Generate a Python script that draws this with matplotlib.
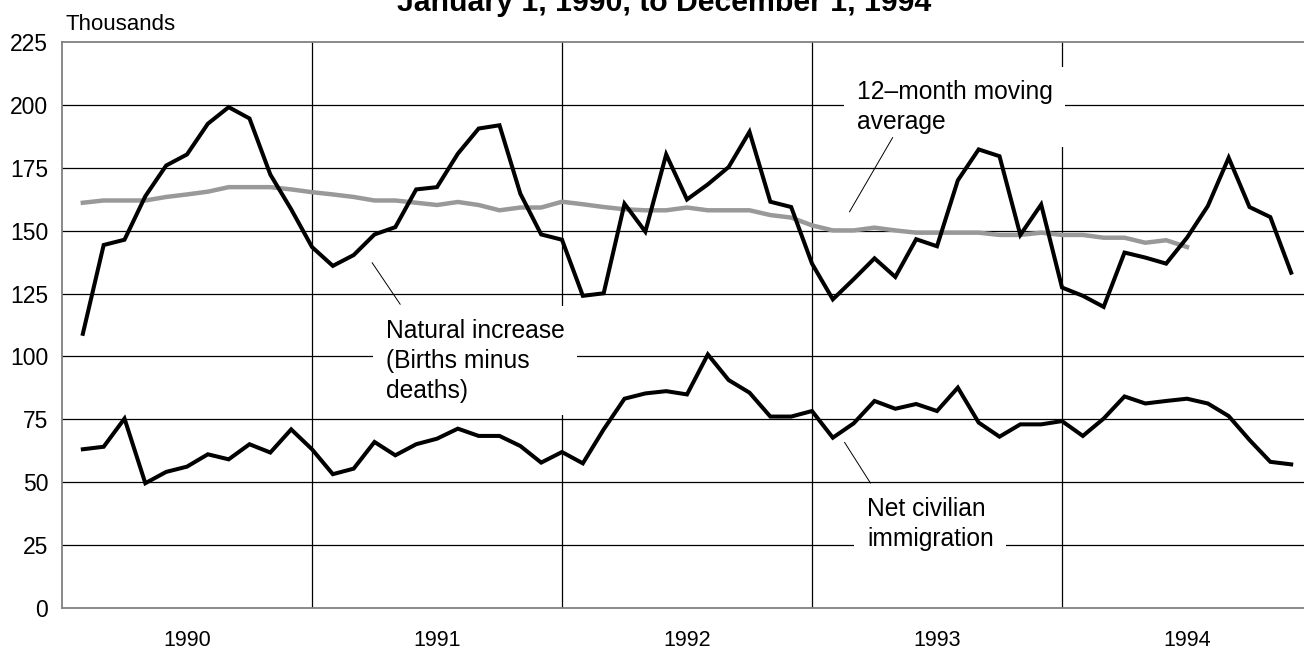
import numpy as np
import matplotlib.pyplot as plt

# monthly values, thousands (Jan 1990 - Nov 1994)
natural_increase = [109, 144.3, 146.4, 163.7, 175.9, 180.3, 192.5, 199.1, 194.6, 172.3, 158.5, 143.5,
                    136.0, 140.3, 148.5, 151.4, 166.4, 167.3, 180.6, 190.6, 191.9, 164.7, 148.5, 146.4,
                    124.1, 125.1, 160.7, 149.6, 180.3, 162.4, 168.4, 175.3, 189.3, 161.5, 159.4, 136.9,
                    122.7, 130.7, 139.0, 131.6, 146.6, 143.8, 170.0, 182.3, 179.6, 148.3, 160.4, 127.4,
                    124.1, 119.7, 141.3, 139.3, 136.9, 147.2, 159.8, 179.0, 159.4, 155.4, 133.3]
immigration = [63.1, 64.1, 75.3, 49.6, 54.1, 56.2, 61.1, 59.1, 65.1, 61.8, 71.0, 63.1,
               53.2, 55.4, 66.0, 60.7, 65.1, 67.3, 71.3, 68.4, 68.4, 64.4, 57.8, 62.0,
               57.5, 71.0, 83.2, 85.3, 86.2, 84.9, 100.8, 90.6, 85.6, 76.1, 76.1, 78.3,
               67.7, 73.4, 82.3, 79.2, 81.1, 78.3, 87.6, 73.7, 68.1, 73.0, 73.0, 74.3,
               68.4, 75.3, 84.1, 81.3, 82.3, 83.2, 81.3, 76.3, 66.8, 58.1, 57.1]
moving_avg = [161.1, 162.0, 162.0, 162.0, 163.4, 164.4, 165.5, 167.3, 167.3, 167.3, 166.4, 165.3,
              164.4, 163.4, 162.0, 162.0, 161.1, 160.2, 161.4, 160.2, 158.1, 159.2, 159.2, 161.5,
              160.5, 159.4, 158.5, 158.1, 158.1, 159.2, 158.1, 158.1, 158.1, 156.2, 155.2, 152.1,
              150.1, 150.1, 151.2, 150.1, 149.2, 149.2, 149.2, 149.2, 148.3, 148.3, 149.2, 148.3,
              148.3, 147.2, 147.2, 145.2, 146.2, 143.5]
years = ['1990', '1991', '1992', '1993', '1994']
y_ticks = [0, 25, 50, 75, 100, 125, 150, 175, 200, 225]

plt.rcParams['font.family'] = ['Liberation Sans', 'DejaVu Sans']

fig = plt.figure(figsize=(13.04, 6.49), dpi=100)
ax = fig.add_axes([62 / 1304, 41 / 649, 1250 / 1304, 566 / 649])

m1 = np.arange(1, len(natural_increase) + 1)
m2 = np.arange(1, len(moving_avg) + 1)

# grid
for v in y_ticks[1:-1]:
    ax.axhline(v, color='black', lw=0.9, zorder=1)
for k in range(1, len(years)):
    ax.axvline(12 * k, color='black', lw=0.9, zorder=1)

ax.plot(m2, moving_avg, color='#999999', lw=3.2, zorder=3, solid_joinstyle='miter')
ax.plot(m1, natural_increase, color='black', lw=2.9, zorder=4, solid_joinstyle='miter')
ax.plot(m1, immigration, color='black', lw=2.9, zorder=4, solid_joinstyle='miter')

ax.set_xlim(0, 60)
ax.set_ylim(0, 225)
ax.set_yticks(y_ticks)
ax.set_xticks([12 * k + 6 for k in range(len(years))])
ax.set_xticklabels(years)
ax.tick_params(axis='x', length=0, pad=16, labelsize=15.5)
ax.tick_params(axis='y', length=0, pad=10, labelsize=16.5)
for s in ['left', 'top', 'bottom']:
    ax.spines[s].set_color('#808080')
    ax.spines[s].set_linewidth(1.3)
ax.spines['right'].set_visible(False)

# labels with leader lines (va='baseline' -> last line)
lab = dict(fontsize=17.7, va='baseline', linespacing=1.32, zorder=2)
ax.text(38.16, 190.4, '12\u2013month moving\naverage',
        bbox=dict(facecolor='white', edgecolor='none', pad=9), **lab)
ax.annotate('', xy=(37.73, 156.5), xytext=(39.94, 188.0),
            arrowprops=dict(arrowstyle='-', color='black', lw=0.7), zorder=2)
ax.text(15.55, 83.5, 'Natural increase\n(Births minus\ndeaths)',
        bbox=dict(facecolor='white', edgecolor='none', pad=9), **lab)
ax.annotate('', xy=(16.31, 119.8), xytext=(14.81, 138.2),
            arrowprops=dict(arrowstyle='-', color='black', lw=0.7), zorder=2)
ax.text(38.64, 24.6, 'Net civilian\nimmigration',
        bbox=dict(facecolor='white', edgecolor='none', pad=9), **lab)
ax.annotate('', xy=(38.88, 48.7), xytext=(37.49, 66.8),
            arrowprops=dict(arrowstyle='-', color='black', lw=0.7), zorder=2)

fig.text(664 / 1304, 1 - 11 / 649, 'January 1, 1990, to December 1, 1994',
         ha='center', va='baseline', fontsize=21.8, fontweight='bold')
fig.text(65 / 1304, 1 - 30 / 649, 'Thousands', ha='left', va='baseline', fontsize=16)

fig.savefig('out.png', dpi=100)
